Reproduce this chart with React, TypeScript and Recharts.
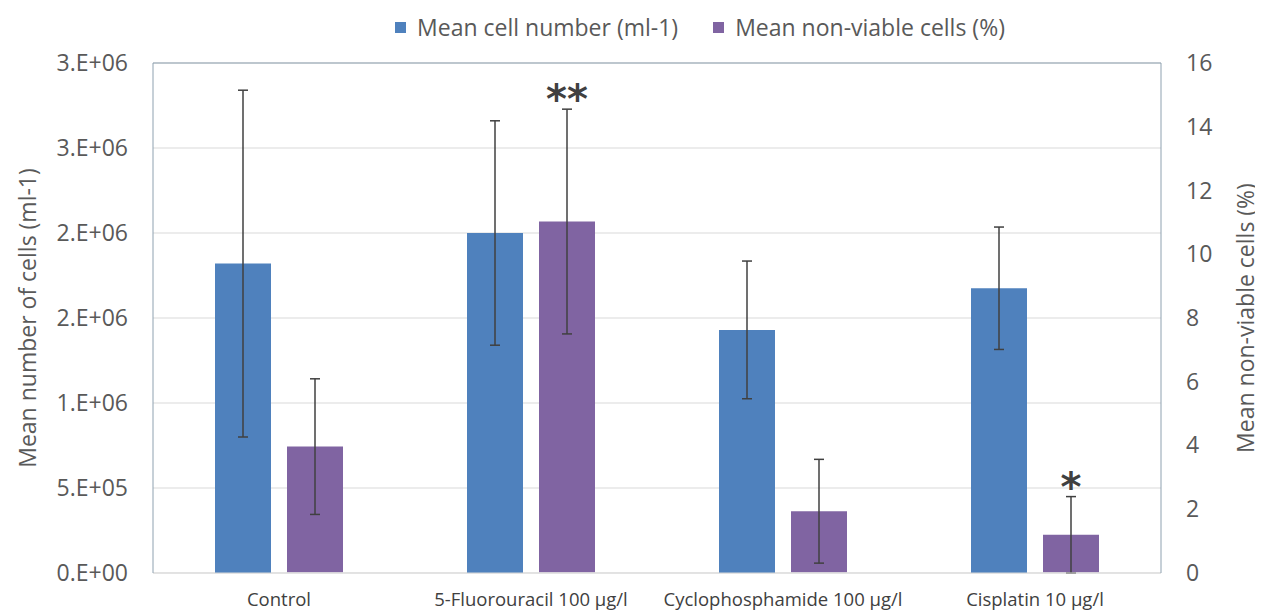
import { ComposedChart, Bar, XAxis, YAxis, CartesianGrid, Legend, ErrorBar, LabelList, ReferenceLine } from "recharts";

const categories = ["Control", "5-Fluorouracil 100 µg/l", "Cyclophosphamide 100 µg/l", "Cisplatin 10 µg/l"];
const meanCells = [1820000, 2000000, 1430000, 1675000];
const meanCellsErr = [1020000, 660000, 405000, 360000];
const nonViable = [3.95, 11.02, 1.92, 1.18];
const nonViableErr = [2.13, 3.53, 1.63, 1.2];
const marks = ["", "**", "", "*"];
const leftTicks = [0, 500000, 1000000, 1500000, 2000000, 2500000, 3000000];
const rightTicks = [0, 2, 4, 6, 8, 10, 12, 14, 16];

const data = categories.map((name, i) => ({
  name,
  cells: meanCells[i],
  cellsErr: meanCellsErr[i],
  dead: nonViable[i],
  deadErr: nonViableErr[i],
  mark: marks[i],
}));

const BLUE = "#4F81BD";
const PURPLE = "#8064A2";
const TEXT = "#595959";
const FONT = "'Open Sans', sans-serif";

// excel style "0.E+00"
function sci(v: number) {
  if (v === 0) return "0.E+00";
  const exp = Math.floor(Math.log10(v));
  const m = Math.round(v / Math.pow(10, exp));
  return `${m}.E+${String(exp).padStart(2, "0")}`;
}

function Star(props: any) {
  const { x, y, width, height, value, index } = props;
  if (!value) return null;
  const d = data[index];
  const top = y - (d.deadErr * height) / d.dead;
  return (
    <text x={x + width / 2} y={top + 4} textAnchor="middle" fontSize={40} fontWeight="bold" fill="#404040" fontFamily="'DejaVu Sans', sans-serif">
      {value}
    </text>
  );
}

function LegendBox() {
  const items = [
    { label: "Mean cell number (ml-1)", color: BLUE },
    { label: "Mean non-viable cells (%)", color: PURPLE },
  ];
  return (
    <div style={{ height: 30, lineHeight: "30px", paddingLeft: 129, display: "flex", justifyContent: "center", alignItems: "center", gap: 35, fontFamily: FONT, fontSize: 23, color: TEXT }}>
      {items.map((it) => (
        <span key={it.label} style={{ display: "flex", alignItems: "center" }}>
          <span style={{ width: 11, height: 11, background: it.color, display: "inline-block", marginRight: 11 }} />
          {it.label}
        </span>
      ))}
    </div>
  );
}

export default function App() {
  return (
    <div style={{ width: 1255, height: 604 }}>
      <ComposedChart width={1255} height={604} data={data} margin={{ top: 25, right: 0, bottom: 0, left: 0 }} barSize={56} barGap={16}>
        <CartesianGrid vertical={false} stroke="#d9d9d9" yAxisId="left" />
        <Legend verticalAlign="top" content={<LegendBox />} wrapperStyle={{ top: 4 }} />
        <XAxis
          dataKey="name"
          height={39}
          tickLine={false}
          tickSize={6}
          tickMargin={14}
          stroke="#d9d9d9"
          tick={{ fill: "#404040", fontSize: 18.5, fontFamily: FONT }}
        />
        <YAxis
          yAxisId="left"
          width={145}
          domain={[0, 3000000]}
          ticks={leftTicks}
          tickFormatter={sci}
          tickLine={false}
          tickSize={6}
          tickMargin={19}
          stroke="#8EA1B0"
          tick={{ fill: TEXT, fontSize: 23, fontFamily: FONT }}
          label={{ value: "Mean number of cells (ml-1)", angle: -90, position: "insideLeft", offset: 20, style: { textAnchor: "middle", fill: TEXT, fontSize: 23, fontFamily: FONT } }}
        />
        <YAxis
          yAxisId="right"
          orientation="right"
          width={102}
          domain={[0, 16]}
          ticks={rightTicks}
          tickLine={false}
          tickSize={6}
          tickMargin={19}
          stroke="#8EA1B0"
          tick={{ fill: TEXT, fontSize: 23, fontFamily: FONT }}
          label={{ value: "Mean non-viable cells (%)", angle: -90, position: "insideRight", offset: 17, style: { textAnchor: "middle", fill: TEXT, fontSize: 23, fontFamily: FONT } }}
        />
        <ReferenceLine yAxisId="left" y={3000000} stroke="#8EA1B0" />
        <Bar yAxisId="left" dataKey="cells" name="Mean cell number (ml-1)" fill={BLUE} isAnimationActive={false}>
          <ErrorBar dataKey="cellsErr" width={5} stroke="#404040" strokeWidth={1.5} />
        </Bar>
        <Bar yAxisId="right" dataKey="dead" name="Mean non-viable cells (%)" fill={PURPLE} isAnimationActive={false}>
          <ErrorBar dataKey="deadErr" width={5} stroke="#404040" strokeWidth={1.5} />
          <LabelList dataKey="mark" content={<Star />} />
        </Bar>
      </ComposedChart>
    </div>
  );
}
